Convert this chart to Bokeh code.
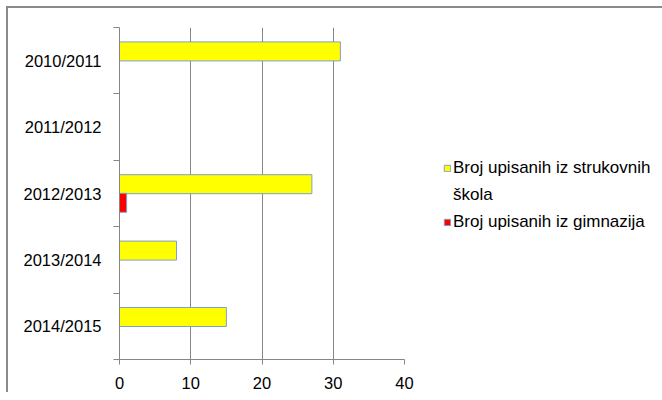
from bokeh.plotting import figure
from bokeh.models import Range1d, FixedTicker, Legend, LegendItem
from bokeh.embed import file_html
from bokeh.resources import INLINE

categories = ["2010/2011", "2011/2012", "2012/2013", "2013/2014", "2014/2015"]
strukovne = [31, 0, 27, 8, 15]
gimnazije = [0, 0, 1, 0, 0]
x_ticks = [0, 10, 20, 30, 40]
label_strukovne_1 = "Broj upisanih iz strukovnih"
label_strukovne_2 = "škola"
label_gimnazije = "Broj upisanih iz gimnazija"

n = len(categories)
centers = [n - i - 0.5 for i in range(n)]
bar_h = 0.286
off = 0.14

FONT = "Liberation Sans"
GREY = "#868686"

p = figure(frame_width=285, frame_height=332, output_backend="svg", toolbar_location=None,
           x_range=Range1d(0, 40), y_range=Range1d(0, n),
           min_border_left=111, min_border_right=250, min_border_top=19, min_border_bottom=33)
p.styles = {"margin-left": "6px", "margin-top": "6px",
            "border-left": "2px solid #8a8a8a", "border-top": "2px solid #8a8a8a"}
p.outline_line_color = None
p.background_fill_color = "white"

r1 = p.hbar(y=[c + off for c in centers], right=strukovne, left=0, height=bar_h,
            fill_color="#FFFF00", line_color="#7F9FCF", line_width=1)
r2 = p.hbar(y=[c - off for c in centers], right=gimnazije, left=0, height=bar_h,
            fill_color="#FF0000", line_color="#7F9FCF", line_width=1)
# invisible renderer used only for the wrapped second line of the first legend label
r_blank = p.hbar(y=[], right=[], left=0, height=bar_h, fill_alpha=0, line_alpha=0)

# x axis
xa = p.xaxis[0]
xa.ticker = FixedTicker(ticks=x_ticks)
xa.axis_line_color = GREY
xa.major_tick_line_color = GREY
xa.major_tick_in = 0
xa.major_tick_out = 5
xa.minor_tick_line_color = None
xa.major_label_text_font = FONT
xa.major_label_text_font_size = "16.5px"
xa.major_label_text_color = "#000000"
xa.major_label_standoff = 12

# y axis
ya = p.yaxis[0]
ya.ticker = FixedTicker(ticks=centers, minor_ticks=list(range(n + 1)))
ya.major_label_overrides = {c: cat for c, cat in zip(centers, categories)}
ya.axis_line_color = GREY
ya.major_tick_line_color = None
ya.major_tick_in = 0
ya.major_tick_out = 0
ya.minor_tick_line_color = GREY
ya.minor_tick_in = 0
ya.minor_tick_out = 6
ya.major_label_text_font = FONT
ya.major_label_text_font_size = "16.5px"
ya.major_label_text_color = "#000000"
ya.major_label_standoff = 12

p.xgrid.ticker = FixedTicker(ticks=x_ticks)
p.xgrid.grid_line_color = GREY
p.ygrid.grid_line_color = None

legend = Legend(items=[LegendItem(label=label_strukovne_1, renderers=[r1]),
                       LegendItem(label=label_strukovne_2, renderers=[r_blank]),
                       LegendItem(label=label_gimnazije, renderers=[r2])],
                location=(39, 127))
legend.border_line_color = None
legend.background_fill_alpha = 0
legend.glyph_width = 8
legend.glyph_height = 8
legend.label_standoff = 2
legend.label_height = 20
legend.padding = 0
legend.margin = 0
legend.spacing = 7
legend.label_text_font = FONT
legend.label_text_font_size = "17px"
legend.label_text_color = "#000000"
p.add_layout(legend, "right")

open("out.html", "w").write(file_html(p, INLINE))
